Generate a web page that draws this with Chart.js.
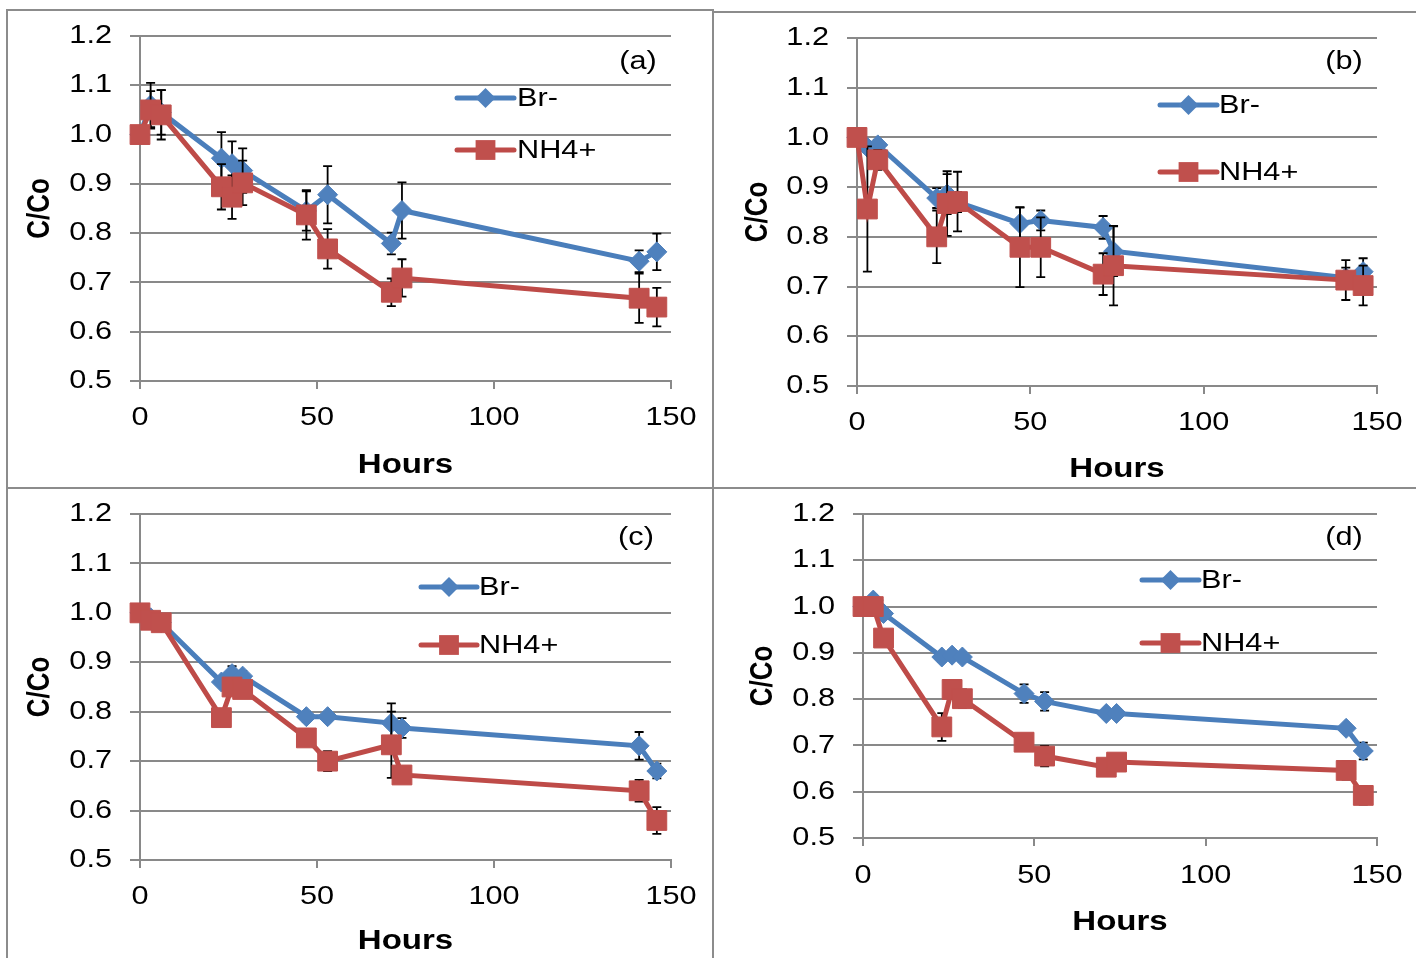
<!DOCTYPE html>
<html lang="en">
<head>
<meta charset="UTF-8">
<title>C/Co vs Hours</title>
<script src="https://cdn.jsdelivr.net/npm/chart.js"></script>
<style>
  body { margin: 0; background: #fff; width: 1416px; height: 958px; position: relative; overflow: hidden; }
  .rule { position: absolute; background: #8c8c8c; }
  canvas { position: absolute; }
</style>
</head>
<body>
<div class="rule" style="left:6px;top:9px;width:2px;height:949px"></div>
<div class="rule" style="left:6px;top:9px;width:708px;height:2px"></div>
<div class="rule" style="left:712px;top:11px;width:704px;height:2px"></div>
<div class="rule" style="left:712px;top:9px;width:2px;height:949px"></div>
<div class="rule" style="left:6px;top:487px;width:1410px;height:2px"></div>

<canvas id="pa"></canvas>
<canvas id="pb"></canvas>
<canvas id="pc"></canvas>
<canvas id="pd"></canvas>

<script>
// sampling times (h), same for every panel
const hours = [0, 3, 6, 23, 26, 29, 47, 53, 71, 74, 141, 146];

// (a)
const brA    = [1.00, 1.06, 1.045, 0.952, 0.941, 0.927, 0.845, 0.878, 0.779, 0.846, 0.743, 0.762];
const brAErr = [0, 0.045, 0.045, 0.053, 0.045, 0.045, 0.04, 0.058, 0.022, 0.057, 0.022, 0.037];
const nhA    = [1.00, 1.05, 1.04, 0.894, 0.873, 0.902, 0.837, 0.768, 0.68, 0.709, 0.668, 0.65];
const nhAErr = [0, 0.038, 0.05, 0.046, 0.044, 0.045, 0.05, 0.04, 0.028, 0.038, 0.05, 0.039];

// (b)
const brB    = [1.00, 0.98, 0.985, 0.878, 0.886, 0.87, 0.827, 0.833, 0.819, 0.771, 0.718, 0.73];
const brBErr = [0, 0.01, 0.01, 0.02, 0.04, 0.02, 0.033, 0.02, 0.023, 0.05, 0.02, 0.027];
const nhB    = [1.00, 0.856, 0.955, 0.80, 0.867, 0.871, 0.779, 0.779, 0.725, 0.742, 0.713, 0.702];
const nhBErr = [0, 0.126, 0.02, 0.053, 0.065, 0.06, 0.08, 0.06, 0.042, 0.08, 0.04, 0.04];

// (c)
const brC    = [1.00, 0.99, 0.98, 0.86, 0.877, 0.872, 0.79, 0.79, 0.777, 0.767, 0.731, 0.68];
const brCErr = [0, 0, 0, 0, 0.015, 0.01, 0.01, 0.005, 0.04, 0.02, 0.028, 0.015];
const nhC    = [1.00, 0.985, 0.98, 0.788, 0.85, 0.845, 0.747, 0.70, 0.733, 0.672, 0.64, 0.58];
const nhCErr = [0, 0, 0, 0, 0.01, 0.01, 0.01, 0.02, 0.067, 0.01, 0.022, 0.027];

// (d)
const brD    = [1.00, 1.014, 0.985, 0.891, 0.895, 0.891, 0.812, 0.795, 0.769, 0.769, 0.737, 0.688];
const brDErr = [0, 0.01, 0.01, 0.01, 0.01, 0.01, 0.02, 0.02, 0, 0, 0, 0.018];
const nhD    = [1.00, 1.00, 0.932, 0.74, 0.821, 0.801, 0.707, 0.677, 0.653, 0.664, 0.646, 0.592];
const nhDErr = [0, 0, 0, 0.03, 0.018, 0.02, 0, 0.022, 0, 0, 0.02, 0.02];

const yTicks = [0.5, 0.6, 0.7, 0.8, 0.9, 1.0, 1.1, 1.2];
const xTicks = [0, 50, 100, 150];

const FONT = "'Liberation Sans', Arial, sans-serif";
const BLUE = '#4a7ebb', BLUE_FILL = '#4f81bd';
const RED = '#be4b48', RED_FILL = '#c0504d';
const GRID = '#898989';
const TEXT_STRETCH = 1.18;   // the source figure's lettering is wider than Arial

Chart.defaults.font.family = FONT;
Chart.defaults.color = '#000';

// widen every label drawn on a canvas (horizontal on screen, also for rotated text)
function stretchText(ctx, sx) {
  const fill = ctx.fillText.bind(ctx);
  ctx.fillText = (text, x, y) => {
    const m = ctx.getTransform();
    ctx.save();
    ctx.translate(x, y);
    if (Math.abs(m.b) > 0.5) ctx.scale(1, sx);
    else ctx.scale(sx, 1);
    fill(text, 0, 0);
    ctx.restore();
  };
}

function drawMarker(ctx, style, x, y, r, fill) {
  ctx.fillStyle = fill;
  ctx.beginPath();
  if (style === 'rectRot') {
    ctx.moveTo(x, y - r); ctx.lineTo(x + r, y); ctx.lineTo(x, y + r); ctx.lineTo(x - r, y);
  } else {
    const s = r * Math.SQRT1_2;
    ctx.rect(x - s, y - s, 2 * s, 2 * s);
  }
  ctx.closePath();
  ctx.fill();
}

// vertical error bars, drawn under each series' own markers
const errorBars = {
  id: 'errorBars',
  beforeDatasetDraw(chart, args) {
    const ds = chart.data.datasets[args.index];
    if (!ds.errors) return;
    const ys = chart.scales.y, ctx = chart.ctx;
    ctx.save();
    ctx.strokeStyle = '#000';
    ctx.lineWidth = 1.8;
    args.meta.data.forEach((pt, i) => {
      const e = ds.errors[i];
      if (!e) return;
      const v = ds.data[i].y;
      const t = ys.getPixelForValue(v + e), b = ys.getPixelForValue(v - e);
      ctx.beginPath();
      ctx.moveTo(pt.x, t); ctx.lineTo(pt.x, b);
      ctx.moveTo(pt.x - 4.5, t); ctx.lineTo(pt.x + 4.5, t);
      ctx.moveTo(pt.x - 4.5, b); ctx.lineTo(pt.x + 4.5, b);
      ctx.stroke();
    });
    ctx.restore();
  }
};

// legend + panel letter inside the plot
const decor = {
  id: 'decor',
  afterDraw(chart, args, o) {
    const ctx = chart.ctx;
    ctx.save();
    ctx.font = '26px ' + FONT;
    ctx.textBaseline = 'middle';
    ctx.fillStyle = '#000';
    ctx.textAlign = 'center';
    ctx.fillText(o.letter, o.letterX, o.letterY);
    ctx.textAlign = 'left';
    chart.data.datasets.forEach((ds, i) => {
      const ly = o.rows[i];
      ctx.strokeStyle = ds.borderColor;
      ctx.lineWidth = 5;
      ctx.lineCap = 'round';
      ctx.beginPath();
      ctx.moveTo(o.x1, ly); ctx.lineTo(o.x2, ly);
      ctx.stroke();
      drawMarker(ctx, ds.pointStyle, (o.x1 + o.x2) / 2, ly, ds.pointRadius, ds.pointBackgroundColor);
      ctx.fillStyle = '#000';
      ctx.fillText(ds.label, o.tx, ly + 1);
    });
    ctx.restore();
  }
};

function pts(vals) {
  return hours.map((h, i) => ({ x: h, y: vals[i] }));
}

const panels = [
  { id: 'pa', left: 8, top: 10, w: 706, h: 478, yW: 132, padR: 43, padT: 26, xH: 107,
    yTitlePad: 17, xTitlePad: 6, xTickPad: 13,
    br: brA, brErr: brAErr, nh: nhA, nhErr: nhAErr,
    decor: { letter: '(a)', letterX: 630, letterY: 52, x1: 449, x2: 506, rows: [88, 140], tx: 509 } },
  { id: 'pb', left: 714, top: 12, w: 702, h: 476, yW: 143, padR: 39, padT: 26, xH: 102,
    yTitlePad: 29, xTitlePad: 2, xTickPad: 13,
    br: brB, brErr: brBErr, nh: nhB, nhErr: nhBErr,
    decor: { letter: '(b)', letterX: 630, letterY: 50, x1: 446, x2: 503, rows: [93, 160], tx: 505 } },
  { id: 'pc', left: 8, top: 488, w: 706, h: 470, yW: 132, padR: 43, padT: 26, xH: 98,
    yTitlePad: 17, xTitlePad: 0, xTickPad: 13,
    br: brC, brErr: brCErr, nh: nhC, nhErr: nhCErr,
    decor: { letter: '(c)', letterX: 628, letterY: 50, x1: 413, x2: 469, rows: [99, 157], tx: 471 } },
  { id: 'pd', left: 714, top: 488, w: 702, h: 470, yW: 149, padR: 39, padT: 26, xH: 120,
    yTitlePad: 34, xTitlePad: 19, xTickPad: 14,
    br: brD, brErr: brDErr, nh: nhD, nhErr: nhDErr,
    decor: { letter: '(d)', letterX: 630, letterY: 50, x1: 428, x2: 485, rows: [92, 155], tx: 487 } }
];

panels.forEach(p => {
  const cv = document.getElementById(p.id);
  cv.width = p.w;
  cv.height = p.h;
  cv.style.left = p.left + 'px';
  cv.style.top = p.top + 'px';
  stretchText(cv.getContext('2d'), TEXT_STRETCH);

  new Chart(cv, {
    type: 'line',
    data: {
      datasets: [
        {
          label: 'Br-', data: pts(p.br), errors: p.brErr, order: 2,
          borderColor: BLUE, borderWidth: 5,
          pointStyle: 'rectRot', pointRadius: 10, pointBackgroundColor: BLUE_FILL,
          pointBorderColor: BLUE_FILL, pointBorderWidth: 1, clip: false
        },
        {
          label: 'NH4+', data: pts(p.nh), errors: p.nhErr, order: 1,
          borderColor: RED, borderWidth: 5,
          pointStyle: 'rect', pointRadius: 14, pointBackgroundColor: RED_FILL,
          pointBorderColor: RED_FILL, pointBorderWidth: 1, clip: false
        }
      ]
    },
    options: {
      responsive: false,
      animation: false,
      layout: { padding: { left: 0, top: p.padT, right: p.padR, bottom: 0 } },
      plugins: {
        legend: { display: false },
        tooltip: { enabled: false },
        decor: p.decor
      },
      scales: {
        x: {
          type: 'linear', min: 0, max: 150,
          afterFit: s => { s.height = p.xH; },
          afterBuildTicks: s => { s.ticks = xTicks.map(v => ({ value: v })); },
          ticks: { font: { size: 26 }, color: '#000', padding: p.xTickPad, maxRotation: 0 },
          grid: { drawOnChartArea: false, drawTicks: true, tickLength: 8, color: GRID, lineWidth: 2 },
          border: { color: GRID, width: 2 },
          title: { display: true, text: 'Hours', font: { size: 28, weight: 'bold' }, color: '#000',
                   padding: { top: 0, bottom: p.xTitlePad } }
        },
        y: {
          min: 0.5, max: 1.2,
          // fixed width; no extra room above the plot for the top label
          afterFit: s => { s.width = p.yW; s.paddingTop = 0; s.paddingBottom = 0; },
          afterBuildTicks: s => { s.ticks = yTicks.map(v => ({ value: v })); },
          ticks: { font: { size: 26 }, color: '#000', padding: 18, callback: v => v.toFixed(1) },
          grid: { color: GRID, lineWidth: 2, tickLength: 10 },
          border: { color: GRID, width: 2 },
          title: { display: true, text: 'C/Co', font: { size: 26, weight: 'bold' }, color: '#000',
                   padding: { top: p.yTitlePad, bottom: 0 } }
        }
      }
    },
    plugins: [errorBars, decor]
  });
});
</script>
</body>
</html>
